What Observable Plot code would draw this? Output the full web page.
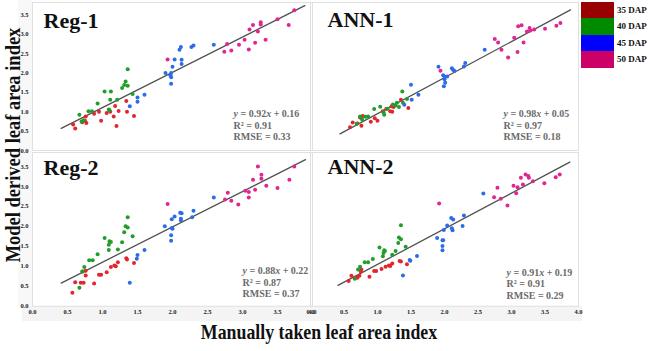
<!DOCTYPE html>
<html><head><meta charset="utf-8">
<script src="https://cdn.jsdelivr.net/npm/d3@7"></script>
<script src="https://cdn.jsdelivr.net/npm/@observablehq/plot@0.6"></script>
<style>
html,body{margin:0;padding:0;background:#fff;}
#wrap{position:relative;width:650px;height:351px;overflow:hidden;font-family:"Liberation Serif","Times New Roman",serif;}
.abs{position:absolute;}
</style></head><body><div id="wrap"></div>
<script>
// ---------- data ----------
const groups = ["35 DAP", "40 DAP", "45 DAP", "50 DAP"];
const xTicks = [0, 0.5, 1, 1.5, 2, 2.5, 3, 3.5, 4];
const yTicks = [0, 0.5, 1, 1.5, 2, 2.5, 3, 3.5];
const panelNames = ["Reg-1", "ANN-1", "Reg-2", "ANN-2"];
const equations = ["y = 0.92x + 0.16", "y = 0.98x + 0.05", "y = 0.88x + 0.22", "y = 0.91x + 0.19"];
const r2Values = ["0.91", "0.97", "0.87", "0.91"];
const rmseValues = ["0.33", "0.18", "0.37", "0.29"];

const reg1_35 = [[0.58,0.67],[0.61,0.57],[0.71,0.73],[0.75,0.77],[0.77,0.71],[0.76,0.88],[0.88,0.95],[0.95,1.00],[0.98,0.77],[1.06,0.97],[1.11,1.00],[1.16,0.88],[1.18,1.15],[1.20,0.63],[1.23,1.02],[1.34,1.28],[1.35,1.00],[1.45,0.89]];
const reg1_40 = [[0.67,0.92],[0.70,0.75],[0.73,0.78],[0.80,1.01],[0.85,1.01],[0.93,1.21],[1.03,1.52],[1.09,1.06],[1.10,1.04],[1.11,1.31],[1.12,1.52],[1.21,1.31],[1.28,1.61],[1.31,1.69],[1.33,1.78],[1.36,1.67],[1.36,2.10],[1.43,1.46]];
const reg1_45 = [[1.39,1.14],[1.50,1.37],[1.50,1.26],[1.60,1.44],[1.90,2.00],[1.97,1.94],[1.98,2.00],[1.98,1.89],[1.98,1.72],[2.00,2.16],[2.03,2.35],[2.13,2.34],[2.13,2.23],[2.10,2.60],[2.12,2.67],[2.27,2.67],[2.30,2.71],[2.59,2.73]];
const reg1_50 = [[1.93,2.35],[2.74,2.55],[2.78,2.75],[2.84,2.58],[2.95,2.73],[3.03,2.86],[3.09,2.61],[3.10,3.12],[3.15,3.24],[3.18,2.78],[3.22,3.07],[3.26,3.31],[3.26,3.25],[3.33,2.86],[3.50,3.39],[3.66,3.24],[3.74,3.62]];

const ann1_35 = [[0.59,0.60],[0.63,0.72],[0.70,0.70],[0.76,0.64],[0.78,0.89],[0.74,0.85],[0.90,0.74],[0.96,0.83],[1.00,0.77],[1.08,1.01],[1.13,1.07],[1.19,1.01],[1.22,1.00],[1.21,1.14],[1.24,1.12],[1.35,1.31],[1.46,1.10]];
const ann1_40 = [[0.69,0.69],[0.74,0.88],[0.77,0.80],[0.82,0.87],[0.86,0.88],[0.95,1.07],[1.04,1.13],[1.09,0.99],[1.10,0.92],[1.15,1.08],[1.23,1.19],[1.29,1.23],[1.32,1.12],[1.37,1.52],[1.38,1.23],[1.44,1.33],[1.27,1.16]];
const ann1_45 = [[1.40,1.18],[1.50,1.70],[1.51,1.31],[1.61,1.44],[1.91,2.16],[1.98,1.94],[2.00,1.84],[2.01,1.75],[1.99,1.66],[2.00,1.91],[2.04,1.91],[2.11,2.12],[2.13,2.08],[2.15,2.05],[2.29,2.17],[2.31,2.26],[2.60,2.60]];
const ann1_50 = [[1.94,2.06],[2.75,2.88],[2.80,2.79],[2.85,2.60],[2.95,2.40],[3.04,2.91],[3.09,2.54],[3.10,3.21],[3.15,3.23],[3.18,2.79],[3.23,3.07],[3.27,3.16],[3.28,3.10],[3.34,3.12],[3.50,3.14],[3.67,3.22],[3.73,3.29]];

const reg2_35 = [[0.57,0.34],[0.61,0.60],[0.69,0.59],[0.73,0.59],[0.72,0.87],[0.76,0.77],[0.76,0.89],[0.88,0.57],[0.95,0.79],[0.98,0.79],[1.06,0.85],[1.12,0.98],[1.17,1.02],[1.19,1.00],[1.22,1.10],[1.34,1.20],[1.35,1.17],[1.45,1.08]];
const reg2_40 = [[0.67,0.46],[0.71,0.87],[0.74,0.98],[0.81,1.15],[0.86,1.15],[0.93,1.30],[1.03,1.71],[1.09,1.41],[1.09,1.54],[1.10,1.63],[1.12,1.61],[1.22,1.42],[1.28,1.60],[1.31,1.85],[1.33,2.00],[1.36,1.97],[1.36,2.23],[1.43,1.75]];
const reg2_45 = [[1.39,0.59],[1.49,1.19],[1.50,1.28],[1.60,1.41],[1.89,2.00],[1.98,1.78],[1.98,1.64],[1.99,1.96],[2.00,1.94],[1.99,2.18],[2.03,2.25],[2.11,2.34],[2.13,2.33],[2.12,2.19],[2.12,2.15],[2.28,2.23],[2.30,2.39],[2.59,2.72]];
const reg2_50 = [[1.93,2.56],[2.75,2.67],[2.79,2.84],[2.84,2.64],[2.94,2.55],[3.04,2.89],[3.09,2.86],[3.09,2.72],[3.15,3.17],[3.18,2.92],[3.22,3.50],[3.27,3.29],[3.27,3.19],[3.34,3.02],[3.50,2.96],[3.67,3.17],[3.74,3.50]];

const ann2_35 = [[0.57,0.63],[0.61,0.76],[0.66,0.71],[0.70,0.71],[0.73,0.76],[0.75,0.87],[0.76,0.92],[0.88,0.74],[0.95,0.88],[0.98,0.88],[1.06,0.93],[1.12,0.99],[1.17,1.02],[1.19,1.01],[1.22,1.07],[1.33,1.13],[1.35,1.12],[1.44,1.05]];
const ann2_40 = [[0.66,0.69],[0.71,0.92],[0.74,0.99],[0.81,1.10],[0.86,1.10],[0.93,1.18],[1.03,1.47],[1.08,1.25],[1.09,1.33],[1.10,1.40],[1.11,1.38],[1.22,1.29],[1.27,1.38],[1.31,1.58],[1.32,1.72],[1.35,1.68],[1.35,2.03],[1.42,1.49]];
const ann2_45 = [[1.38,0.77],[1.48,1.16],[1.49,1.14],[1.59,1.26],[1.89,1.71],[1.97,1.65],[1.98,1.65],[1.97,1.51],[1.97,1.40],[1.99,1.91],[2.04,2.02],[2.10,2.21],[2.13,2.17],[2.11,1.95],[2.12,1.90],[2.27,2.01],[2.29,2.27],[2.58,2.82]];
const ann2_50 = [[1.92,2.57],[2.74,2.73],[2.79,2.97],[2.84,2.69],[2.94,2.52],[3.03,3.02],[3.07,2.83],[3.09,2.98],[3.14,3.22],[3.17,3.05],[3.21,3.30],[3.25,3.26],[3.26,3.22],[3.32,3.13],[3.49,3.08],[3.66,3.23],[3.72,3.30]];

// fitted line end points
const reg1Line = [[0.41,0.57],[3.89,3.74]];
const ann1Line = [[0.44,0.43],[3.88,3.63]];
const reg2Line = [[0.41,0.58],[3.90,3.67]];
const ann2Line = [[0.41,0.52],[3.87,3.61]];

// ---------- styles / layout ----------
const pointColors = ["#e3262e", "#1f9e2a", "#2b6de6", "#e0268f"];
const legendColors = ["#990000", "#008a00", "#0000ff", "#cc0066"];
const serif = "Liberation Serif, Times New Roman, serif";

const wrap = d3.select("#wrap");
// light bands behind tick labels
wrap.append("div").attr("class","abs").style("left","22px").style("top","306px").style("width","560px").style("height","15px").style("background","#f4f4f4");
wrap.append("div").attr("class","abs").style("left","18px").style("top","0px").style("width","14px").style("height","306px").style("background","#f8f8f8");

const layouts = [
  {left:0,   top:0,   width:314, height:152, mL:32, mR:2, mT:2, mB:2,    yMax:3.82, showY:true,  showX:false,
   title:[43,27], ann:[233,116.7,128.3,139.5], pts:[reg1_35,reg1_40,reg1_45,reg1_50], line:reg1Line},
  {left:308, top:0,   width:272, height:152, mL:2,  mR:2, mT:2, mB:2,    yMax:3.82, showY:false, showX:false,
   title:[327,26], ann:[503,116.7,128,139.2], pts:[ann1_35,ann1_40,ann1_45,ann1_50], line:ann1Line},
  {left:0,   top:150, width:314, height:170, mL:32, mR:2, mT:2, mB:14.3, yMax:3.85, showY:true,  showX:true,
   title:[43,174], ann:[242,273.3,285,296.7], pts:[reg2_35,reg2_40,reg2_45,reg2_50], line:reg2Line},
  {left:308, top:150, width:272, height:170, mL:2,  mR:2, mT:2, mB:14.3, yMax:3.85, showY:false, showX:true,
   title:[327,173], ann:[506,275,286.7,298.3], pts:[ann2_35,ann2_40,ann2_45,ann2_50], line:ann2Line}
];

layouts.forEach((L, i) => {
  const rows = [];
  L.pts.forEach((arr, gi) => arr.forEach(([x, y]) => rows.push({x, y, g: groups[gi]})));
  const ox = L.left + L.mL, oy = L.top + L.mT;
  const annFs = 10;
  const annText = [equations[i], "R\u00B2 = " + r2Values[i], "RMSE = " + rmseValues[i]];
  const annMarks = annText.map((t, k) => Plot.text([t], {
    text: d => d, frameAnchor: "top-left", textAnchor: "start", lineAnchor: "middle",
    dx: L.ann[0] - ox, dy: L.ann[k + 1] - 0.32 * annFs - oy,
    fontSize: annFs, fontWeight: "bold", fontFamily: serif, fill: "#6b6b6b"
  }));
  const titleFs = 22;
  const chart = Plot.plot({
    width: L.width, height: L.height,
    marginLeft: L.mL, marginRight: L.mR, marginTop: L.mT, marginBottom: L.mB,
    style: {fontFamily: serif, fontSize: "6.5px", fontWeight: "bold", color: "#222", background: "transparent", overflow: "visible"},
    x: {domain: [0, 4], ticks: xTicks, tickFormat: ".1f", tickSize: 0, tickPadding: 3, label: null, axis: L.showX ? "bottom" : null},
    y: {domain: [0, L.yMax], ticks: yTicks, tickFormat: ".1f", tickSize: 0, tickPadding: 4, label: null, axis: L.showY ? "left" : null},
    color: {domain: groups, range: pointColors},
    marks: [
      Plot.frame({stroke: "#e0e0e0"}),
      Plot.line(L.line, {x: d => d[0], y: d => d[1], stroke: "#505050", strokeWidth: 1.3}),
      Plot.dot(rows, {x: "x", y: "y", fill: "g", r: 2, stroke: "none"}),
      Plot.text([panelNames[i]], {
        text: d => d, frameAnchor: "top-left", textAnchor: "start", lineAnchor: "middle",
        dx: L.title[0] - ox, dy: L.title[1] - 0.32 * titleFs - oy,
        fontSize: titleFs, fontWeight: "bold", fontFamily: serif, fill: "#111"
      }),
      ...annMarks
    ]
  });
  const holder = wrap.append("div").attr("class", "abs").style("left", L.left + "px").style("top", L.top + "px");
  holder.node().appendChild(chart);
});

// italic y and x in equations
wrap.selectAll("svg text").each(function() {
  const m = /^y = ([\d.]+)x \+ ([\d.]+)$/.exec(this.textContent);
  if (m) this.innerHTML = `<tspan font-style="italic">y</tspan> = ${m[1]}<tspan font-style="italic">x</tspan> + ${m[2]}`;
});

// legend
const leg = wrap.append("div").attr("class", "abs").style("left", "581px").style("top", "1.7px");
groups.forEach((g, i) => {
  const row = leg.append("div").style("display", "flex").style("align-items", "center").style("height", "16.5px");
  row.append("div").style("width", "33px").style("height", "16.5px").style("background", legendColors[i]);
  row.append("div").style("margin-left", "3px").style("font", "bold 9px " + serif).style("color", "#111").style("white-space", "nowrap").text(g);
});

// axis titles
wrap.append("div").attr("class", "abs")
  .style("left", "318.5px").style("top", "332px")
  .style("transform", "translate(-50%,-50%) scale(0.81,1)")
  .style("font", "bold 22px/1 " + serif).style("white-space", "nowrap").style("color", "#111")
  .text("Manually taken leaf area index");
wrap.append("div").attr("class", "abs")
  .style("left", "12.5px").style("top", "145px")
  .style("transform", "translate(-50%,-50%) rotate(-90deg) scale(0.84,1)")
  .style("font", "bold 22px/1 " + serif).style("white-space", "nowrap").style("color", "#111")
  .text("Model derived leaf area index");
</script></body></html>
